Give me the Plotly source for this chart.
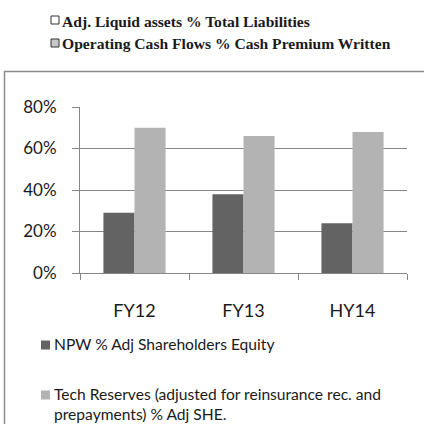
import plotly.graph_objects as go

categories = ["FY12", "FY13", "HY14"]
npw_pct_adj_she = [29, 38, 24]
tech_reserves_pct_adj_she = [70, 66, 68]
y_tick_values = [0, 20, 40, 60, 80]
y_tick_labels = ["0%", "20%", "40%", "60%", "80%"]

series_names = ["NPW % Adj Shareholders Equity",
                "Tech Reserves (adjusted for reinsurance rec. and<br>prepayments) % Adj SHE."]
header_items = ["Adj. Liquid assets % Total Liabilities",
                "Operating Cash Flows % Cash Premium Written"]

DARK = "#636363"
LIGHT = "#b3b3b3"
GRID = "#878787"

W = H = 424
L, R, T, B = 80, 17, 107, 151
PW = W - L - R
PH = H - T - B


def px_x(x):
    return (x - L) / PW


def px_y(y):
    return (H - B - y) / PH


fig = go.Figure()
fig.add_trace(go.Bar(x=categories, y=npw_pct_adj_she, name=series_names[0],
                     marker=dict(color=DARK, line=dict(width=0)), showlegend=False))
fig.add_trace(go.Bar(x=categories, y=tech_reserves_pct_adj_she, name=series_names[1],
                     marker=dict(color=LIGHT, line=dict(width=0)), showlegend=False))

shapes = []
annotations = []

# outer frame
shapes.append(dict(type="rect", xref="paper", yref="paper",
                   x0=px_x(4.5), x1=px_x(440), y0=px_y(440), y1=px_y(71.5),
                   line=dict(color="#8c8c8c", width=1.5), fillcolor="rgba(0,0,0,0)", layer="below"))

# header legend (serif bold)
hdr_font = dict(family="Liberation Serif", size=15.6, color="#1a1a1a")
hdr_y = [20, 43]
hdr_fill = ["white", "#c8c8c8"]
for txt, yy, fc in zip(header_items, hdr_y, hdr_fill):
    shapes.append(dict(type="rect", xref="paper", yref="paper",
                       x0=px_x(51), x1=px_x(59), y0=px_y(yy + 4), y1=px_y(yy - 4),
                       line=dict(color="#333333", width=1), fillcolor=fc))
    annotations.append(dict(text="<b>" + txt + "</b>", xref="paper", yref="paper",
                            x=px_x(60), y=px_y(yy + 1), xanchor="left", yanchor="middle",
                            showarrow=False, font=hdr_font))

# bottom legend
leg_font = dict(family="Lato", size=15.6, color="#1a1a1a")
leg_sq_y = [345, 395]
leg_txt_y = [343.5, 403.5]
for name, sy, ty, col in zip(series_names, leg_sq_y, leg_txt_y, [DARK, LIGHT]):
    shapes.append(dict(type="rect", xref="paper", yref="paper",
                       x0=px_x(41), x1=px_x(50), y0=px_y(sy + 4.5), y1=px_y(sy - 4.5),
                       line=dict(width=0), fillcolor=col))
    annotations.append(dict(text=name, xref="paper", yref="paper",
                            x=px_x(52), y=px_y(ty), xanchor="left", yanchor="middle",
                            align="left", showarrow=False, font=leg_font))

fig.update_layout(
    width=W, height=H,
    margin=dict(l=L, r=R, t=T, b=B, pad=0),
    paper_bgcolor="white", plot_bgcolor="white",
    barmode="group", bargap=0.43, bargroupgap=0,
    shapes=shapes, annotations=annotations,
    showlegend=False,
)
fig.update_yaxes(range=[0, 80], tickvals=y_tick_values, ticktext=y_tick_labels,
                 showgrid=True, gridcolor=GRID, gridwidth=1,
                 showline=True, linecolor=GRID, linewidth=1,
                 ticks="outside", ticklen=7, tickcolor=GRID,
                 ticklabelstandoff=12,
                 tickfont=dict(family="Lato", size=17, color="#1a1a1a"),
                 zeroline=False, fixedrange=True)
fig.update_xaxes(showline=True, linecolor=GRID, linewidth=1,
                 ticks="outside", ticklen=6, tickcolor=GRID, tickson="boundaries",
                 ticklabelstandoff=21,
                 tickfont=dict(family="Lato", size=18, color="#1a1a1a"),
                 showgrid=False, fixedrange=True)

fig.write_html("out.html", config={"displayModeBar": False},
               post_script="document.body.style.margin='0';document.body.style.overflow='hidden';")
